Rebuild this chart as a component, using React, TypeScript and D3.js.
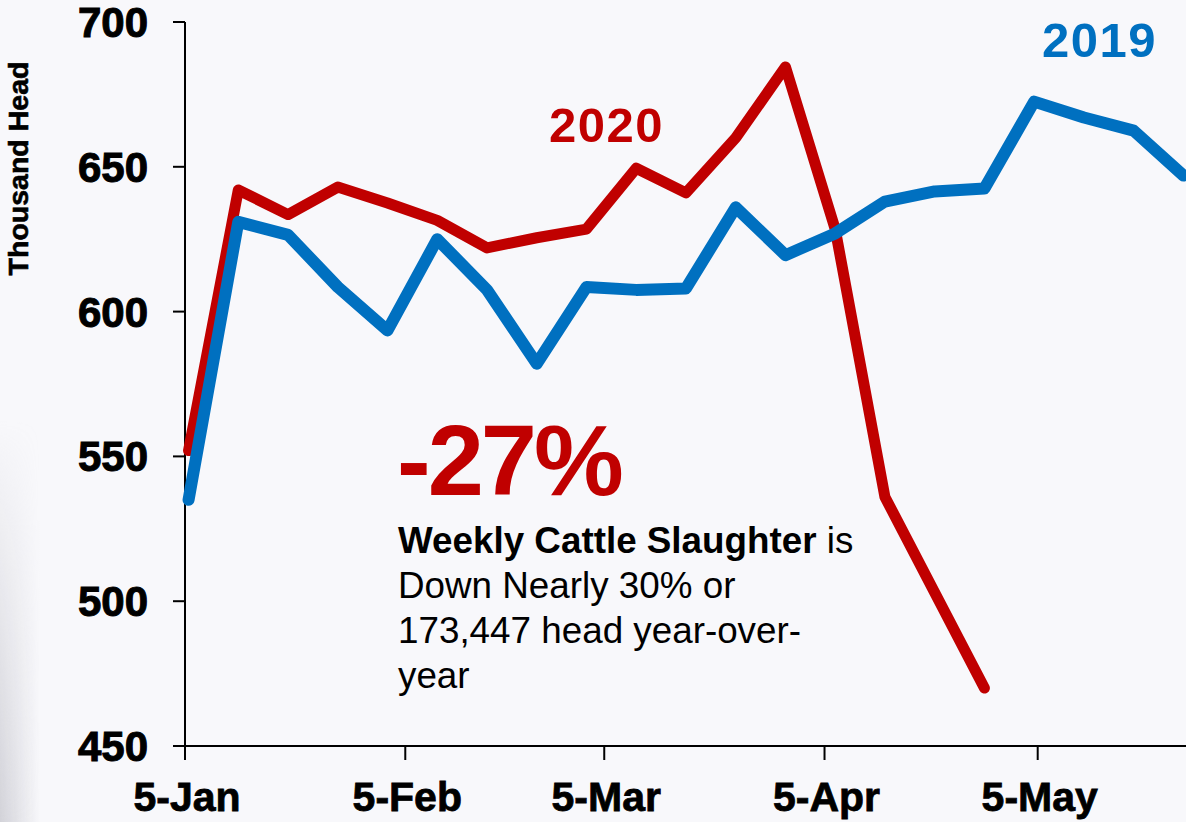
import React from "react";
import * as d3 from "d3";

// Weekly dates (2019 calendar, week index aligned for both years)
const weekDates = [
  "2019-01-05", "2019-01-12", "2019-01-19", "2019-01-26",
  "2019-02-02", "2019-02-09", "2019-02-16", "2019-02-23",
  "2019-03-02", "2019-03-09", "2019-03-16", "2019-03-23", "2019-03-30",
  "2019-04-06", "2019-04-13", "2019-04-20", "2019-04-27",
  "2019-05-04", "2019-05-11", "2019-05-18", "2019-05-25",
];

// Thousand head
const values2019 = [
  535, 631, 626.5, 608.5, 593.5, 625, 607.5, 582, 608.5, 607.5, 608,
  636, 619.5, 627, 638, 641.5, 642.5, 672.5, 667, 662.5, 647,
];
const values2020 = [
  552, 642, 633.5, 643, 637.5, 631.5, 622, 625.5, 628.5, 649.5, 641,
  660, 684.5, 628.5, 536, 503, 470,
];

const yTicks = [450, 500, 550, 600, 650, 700];
const xTickDates = ["2019-01-05", "2019-02-05", "2019-03-05", "2019-04-05", "2019-05-05"];

const W = 1186;
const H = 822;
const FONT = "'Liberation Sans', Arial, Helvetica, sans-serif";
const RED = "#C00000";
const BLUE = "#0070C0";

export default function App() {
  const parse = d3.timeParse("%Y-%m-%d");
  const fmt = d3.timeFormat("%-d-%b");

  const x = d3
    .scaleTime()
    .domain([parse("2019-01-05")!, parse("2019-05-05")!])
    .range([185, 1037.7]);
  const y = d3.scaleLinear().domain([450, 700]).range([746, 22]);

  // weekly points plotted at mid-day of their date
  const pointDate = (s: string) => d3.timeHour.offset(parse(s)!, 12);

  const line = d3
    .line<number>()
    .x((_, i) => x(pointDate(weekDates[i])))
    .y((d) => y(d));

  const xLeft = 185;
  const xRight = W;

  return (
    <div style={{ position: "fixed", left: 0, top: 0, width: W, height: H }}>
      <svg width={W} height={H} style={{ display: "block" }} fontFamily={FONT}>
        <defs>
          <linearGradient id="leftShade" x1="0" y1="0" x2="1" y2="0">
            <stop offset="0" stopColor="#b9b9c2" stopOpacity={0.6} />
            <stop offset="1" stopColor="#b9b9c2" stopOpacity={0} />
          </linearGradient>
          <linearGradient id="leftShadeV" x1="0" y1="0" x2="0" y2="1">
            <stop offset="0" stopColor="white" stopOpacity={0} />
            <stop offset="1" stopColor="white" stopOpacity={1} />
          </linearGradient>
          <mask id="vmask">
            <rect x={0} y={420} width={40} height={H - 420} fill="url(#leftShadeV)" />
          </mask>
        </defs>
        <rect x={0} y={0} width={W} height={H} fill="#F8F8FB" />
        <rect x={0} y={420} width={40} height={H - 420} fill="url(#leftShade)" mask="url(#vmask)" />

        {/* Y axis */}
        <line x1={xLeft} x2={xLeft} y1={y(700)} y2={y(450)} stroke="#000" strokeWidth={2} />
        {yTicks.map((t) => (
          <g key={t}>
            <line x1={xLeft - 12} x2={xLeft} y1={y(t)} y2={y(t)} stroke="#000" strokeWidth={2} />
            <text
              x={148}
              y={y(t) + 15}
              textAnchor="end"
              fontSize={42}
              fontWeight="bold"
              fill="#000"
              stroke="#000"
              strokeWidth={1}
            >
              {t}
            </text>
          </g>
        ))}

        {/* X axis */}
        <line x1={xLeft - 12} x2={xRight} y1={y(450)} y2={y(450)} stroke="#000" strokeWidth={2} />
        {xTickDates.map((s) => {
          const d = parse(s)!;
          const px = x(d);
          return (
            <g key={s}>
              <line x1={px} x2={px} y1={y(450)} y2={y(450) + 14} stroke="#000" strokeWidth={2} />
              <text
                x={px + 2}
                y={811}
                textAnchor="middle"
                fontSize={41}
                fontWeight="bold"
                fill="#000"
                stroke="#000"
                strokeWidth={0.8}
              >
                {fmt(d)}
              </text>
            </g>
          );
        })}

        {/* Y axis title */}
        <text
          transform="translate(28,168.5) rotate(-90)"
          textAnchor="middle"
          fontSize={28.5}
          fontWeight="bold"
          fill="#000"
          stroke="#000"
          strokeWidth={0.6}
        >
          Thousand Head
        </text>

        {/* Series */}
        <path
          d={line(values2020) || ""}
          fill="none"
          stroke={RED}
          strokeWidth={11}
          strokeLinejoin="round"
          strokeLinecap="round"
        />
        <path
          d={line(values2019) || ""}
          fill="none"
          stroke={BLUE}
          strokeWidth={12}
          strokeLinejoin="round"
          strokeLinecap="round"
        />

        {/* Series labels */}
        <text x={549} y={142} fontSize={49} fontWeight="bold" fill={RED} letterSpacing={1.5}>
          2020
        </text>
        <text x={1042} y={57} fontSize={49} fontWeight="bold" fill={BLUE} letterSpacing={1.5}>
          2019
        </text>

        {/* Annotation */}
        <text x={397} y={495} fontSize={101} fontWeight="bold" fill={RED} letterSpacing={-3}>
          -27%
        </text>
        <text fontSize={36.8} fill="#000">
          <tspan x={398} y={553}>
            <tspan fontWeight="bold">Weekly Cattle Slaughter</tspan>
            <tspan> is</tspan>
          </tspan>
          <tspan x={398} y={598}>Down Nearly 30% or</tspan>
          <tspan x={398} y={643}>173,447 head year-over-</tspan>
          <tspan x={398} y={688}>year</tspan>
        </text>
      </svg>
    </div>
  );
}
